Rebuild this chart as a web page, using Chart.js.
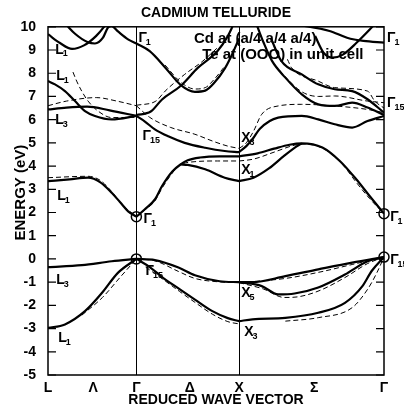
<!DOCTYPE html>
<html>
<head>
<meta charset="utf-8">
<script src="https://cdn.jsdelivr.net/npm/chart.js@4.4.0/dist/chart.umd.min.js"></script>
<style>
  html, body { margin: 0; padding: 0; background: #fff; }
  #wrap { width: 404px; height: 411px; }
</style>
</head>
<body>
<div id="wrap"><canvas id="bandChart"></canvas></div>
<script>
// symmetry points along the path (reduced wave vector) and their tick labels
const kTicks = [0, 0.44, 0.86, 1.38, 1.86, 2.59, 3.27];
const kLabels = ['L', 'Λ', 'Γ', 'Δ', 'X', 'Σ', 'Γ'];
const energyTicks = [10, 9, 8, 7, 6, 5, 4, 3, 2, 1, 0, -1, -2, -3, -4, -5];

// bands as [k, energy eV] -- solid lines
const upperL1 = [[0, 9.68], [0.117, 9.3], [0.234, 9.05], [0.35, 9.2], [0.467, 9.6], [0.545, 10.0], [0.584, 10.25]];
const upperL2 = [[0.175, 10.1], [0.263, 9.7], [0.389, 9.33], [0.457, 9.28], [0.535, 9.53], [0.584, 9.97], [0.62, 10.03], [0.681, 9.8], [0.779, 9.46], [0.86, 9.28]];
const lambdaA = [[0, 7.66], [0.068, 7.52], [0.165, 7.23], [0.263, 6.8], [0.36, 6.37], [0.457, 6.16], [0.62, 6.01], [0.86, 6.16]];
const lambdaB = [[0, 6.44], [0.18, 6.52], [0.38, 6.56], [0.6, 6.4], [0.86, 6.16]];
const lambdaCond = [[0, 3.35], [0.21, 3.43], [0.39, 3.5], [0.51, 3.3], [0.62, 2.85], [0.7, 2.45], [0.78, 2.05], [0.86, 1.82]];
const lambdaVal1 = [[0, -0.35], [0.33, -0.27], [0.62, -0.1], [0.86, 0]];
const lambdaVal2 = [[0, -2.97], [0.165, -2.82], [0.36, -2.25], [0.526, -1.46], [0.68, -0.6], [0.86, 0]];
const deltaTop = [[0.86, 9.28], [0.99, 8.95], [1.14, 8.25], [1.29, 7.5], [1.43, 7.2], [1.53, 7.25], [1.62, 7.6], [1.72, 8.2], [1.79, 8.8], [1.86, 9.5]];
const deltaRise = [[0.86, 6.2], [1.0, 6.35], [1.11, 6.87], [1.29, 7.45], [1.46, 8.24], [1.65, 8.96], [1.75, 9.6], [1.8, 10.05]];
const deltaG15 = [[0.86, 6.16], [0.94, 5.93], [1.04, 5.58], [1.17, 5.28], [1.33, 5.0], [1.53, 4.79], [1.72, 4.65], [1.86, 4.6]];
const deltaCondA = [[0.86, 1.82], [0.94, 2.13], [1.04, 2.56], [1.11, 3.14], [1.21, 3.77], [1.29, 4.07], [1.36, 4.25], [1.48, 4.37], [1.67, 4.42], [1.86, 4.42]];
const deltaCondB = [[1.29, 4.07], [1.36, 4.05], [1.53, 3.86], [1.72, 3.5], [1.86, 3.35]];
const deltaVal1 = [[0.86, 0], [1.04, -0.05], [1.27, -0.37], [1.43, -0.7], [1.67, -0.96], [1.86, -1.0]];
const deltaVal2 = [[0.86, 0], [0.99, -0.35], [1.11, -0.78], [1.28, -1.3], [1.43, -1.75], [1.6, -2.25], [1.75, -2.55], [1.86, -2.68]];
const sigmaTop1 = [[2.42, 10.1], [2.74, 9.82], [2.91, 9.53], [3.07, 9.39], [3.27, 9.32]];
const sigmaTop2 = [[2.6, 9.6], [2.68, 8.9], [2.77, 8.67], [2.87, 8.8], [3.0, 9.3], [3.2, 10.2]];
const sigmaA = [[2.03, 10.1], [2.1, 9.3], [2.18, 8.53], [2.31, 7.81], [2.47, 7.09], [2.63, 6.66], [2.79, 6.59], [2.96, 6.73], [3.11, 6.52], [3.27, 6.2]];
const sigmaB = [[2.17, 9.5], [2.27, 8.53], [2.47, 7.95], [2.63, 7.52], [2.79, 7.31], [2.96, 7.23], [3.11, 6.88], [3.27, 6.3]];
const sigmaX3 = [[1.86, 4.6], [1.93, 4.86], [2.0, 5.22], [2.06, 5.6], [2.24, 6.09], [2.47, 6.16], [2.63, 6.01], [2.79, 5.8], [2.96, 5.66], [3.11, 5.94], [3.27, 6.16]];
const sigmaCondA = [[1.86, 4.42], [2.04, 4.55], [2.2, 4.75], [2.35, 4.92], [2.47, 4.98], [2.67, 4.8], [2.84, 4.22], [3.0, 3.43], [3.13, 2.71], [3.27, 1.95]];
const sigmaCondB = [[1.86, 3.35], [2.0, 3.5], [2.15, 3.9], [2.3, 4.45], [2.42, 4.85], [2.47, 4.98]];
const sigmaVal1 = [[1.86, -1.0], [1.99, -1.0], [2.31, -0.74], [2.63, -0.45], [2.96, -0.16], [3.27, 0.08]];
const sigmaVal2 = [[1.86, -1.0], [2.08, -1.17], [2.24, -1.53], [2.4, -1.49], [2.63, -1.23], [2.89, -0.67], [3.11, -0.1], [3.27, 0.08]];
const sigmaVal3 = [[1.86, -2.68], [1.99, -2.6], [2.31, -2.54], [2.63, -2.32], [2.89, -1.89], [3.06, -1.17], [3.15, -0.52], [3.27, 0.08]];

// dashed lines (second calculation)
const lambdaDashA = [[0, 6.6], [0.18, 6.8], [0.47, 6.95], [0.67, 6.8], [0.86, 6.6]];
const lambdaDashB = [[0.243, 8.05], [0.279, 7.66], [0.328, 7.23], [0.39, 6.8], [0.487, 6.37], [0.62, 6.09], [0.86, 6.1]];
const lambdaDashCond = [[0, 3.5], [0.39, 3.56], [0.51, 3.38], [0.62, 2.9], [0.72, 2.35], [0.86, 1.82]];
const lambdaDashVal = [[0.33, -2.42], [0.53, -1.66], [0.7, -0.8], [0.86, 0]];
const deltaDashTop = [[1.14, 8.35], [1.29, 7.62], [1.43, 7.32], [1.53, 7.38], [1.62, 7.75], [1.72, 8.3]];
const deltaDashRise = [[0.86, 6.62], [1.05, 6.8], [1.14, 7.23], [1.33, 7.95], [1.5, 8.5], [1.65, 9.1]];
const deltaDashG15 = [[0.86, 6.6], [0.99, 6.1], [1.19, 5.67], [1.43, 5.37], [1.6, 5.08], [1.75, 4.86], [1.86, 4.76]];
const deltaDashCond = [[0.86, 1.82], [0.94, 2.1], [1.04, 2.5], [1.11, 3.05], [1.21, 3.7], [1.27, 4.0], [1.43, 4.19], [1.65, 4.22], [1.86, 4.22]];
const deltaDashVal1 = [[0.86, 0], [1.04, -0.08], [1.27, -0.54], [1.43, -0.84], [1.67, -0.99], [1.86, -1.02]];
const deltaDashVal2 = [[0.95, -0.35], [1.11, -0.85], [1.28, -1.4], [1.43, -1.87], [1.6, -2.38], [1.75, -2.7], [1.86, -2.8]];
const sigmaDashC = [[2.33, 8.6], [2.37, 8.24], [2.63, 7.66], [2.79, 7.38], [3.11, 7.23], [3.18, 6.8], [3.27, 6.5]];
const sigmaDashD = [[2.2, 8.4], [2.33, 7.75], [2.47, 7.2], [2.63, 7.0], [2.79, 7.02], [3.11, 6.8], [3.27, 6.73]];
const sigmaDashX3 = [[1.86, 4.76], [1.93, 5.0], [2.0, 5.5], [2.08, 6.23], [2.24, 6.59], [2.47, 6.66], [2.79, 6.59], [3.11, 6.44], [3.27, 6.3]];
const sigmaDashCond = [[1.86, 4.22], [2.0, 4.3], [2.2, 4.6], [2.4, 4.9], [2.5, 4.95], [2.7, 4.7], [2.87, 4.05], [3.0, 3.3], [3.13, 2.6], [3.27, 1.95]];
const sigmaDashVal1 = [[1.86, -1.02], [2.31, -0.84], [2.63, -0.58], [2.96, -0.24], [3.27, 0.08]];
const sigmaDashVal2 = [[1.86, -1.02], [2.1, -1.3], [2.3, -1.66], [2.45, -1.62], [2.65, -1.35], [2.89, -0.8], [3.11, -0.2], [3.27, 0.08]];
const sigmaDashVal3 = [[2.31, -2.68], [2.63, -2.53], [2.96, -2.1], [3.11, -1.31], [3.2, -0.6], [3.27, 0.08]];

// circled degenerate points at Gamma
const circledPoints = [[0.86, 1.82], [0.86, 0], [3.27, 1.95], [3.27, 0.08]];

const solidBands = [upperL1, upperL2, lambdaA, lambdaB, lambdaCond, lambdaVal1, lambdaVal2,
    deltaTop, deltaRise, deltaG15, deltaCondA, deltaCondB, deltaVal1, deltaVal2,
    sigmaTop1, sigmaTop2, sigmaA, sigmaB, sigmaX3, sigmaCondA, sigmaCondB, sigmaVal1, sigmaVal2, sigmaVal3];
const dashedBands = [lambdaDashA, lambdaDashB, lambdaDashCond, lambdaDashVal,
    deltaDashTop, deltaDashRise, deltaDashG15, deltaDashCond, deltaDashVal1, deltaDashVal2,
    sigmaDashC, sigmaDashD, sigmaDashX3, sigmaDashCond, sigmaDashVal1, sigmaDashVal2, sigmaDashVal3];

// symmetry labels: letter, subscript, k, energy
const symbolLabels = [
    ['L', '1', 0.07, 9.0], ['L', '1', 0.08, 7.87], ['L', '3', 0.07, 5.97], ['L', '1', 0.09, 2.7],
    ['L', '3', 0.08, -0.93], ['L', '1', 0.1, -3.43],
    ['Γ', '1', 0.88, 9.5], ['Γ', '15', 0.92, 5.28], ['Γ', '1', 0.93, 1.7], ['Γ', '15', 0.95, -0.54],
    ['X', '3', 1.88, 5.19], ['X', '1', 1.88, 3.81], ['X', '5', 1.88, -1.49], ['X', '3', 1.91, -3.17],
    ['Γ', '1', 3.3, 9.5], ['Γ', '15', 3.3, 6.7], ['Γ', '1', 3.33, 1.79], ['Γ', '15', 3.33, -0.06]
];

const toXY = arr => arr.map(([x, y]) => ({ x, y }));

const datasets = [];
solidBands.forEach(b => datasets.push({
    data: toXY(b), borderColor: '#000', borderWidth: 2.2, pointRadius: 0,
    cubicInterpolationMode: 'monotone', clip: 0
}));
dashedBands.forEach(b => datasets.push({
    data: toXY(b), borderColor: '#000', borderWidth: 1, borderDash: [5, 3], pointRadius: 0,
    cubicInterpolationMode: 'monotone', clip: 0
}));
datasets.push({
    type: 'scatter', data: toXY(circledPoints), showLine: false,
    pointRadius: 5, pointBorderWidth: 1.5, pointBorderColor: '#000',
    pointBackgroundColor: 'rgba(0,0,0,0)', clip: false
});

function drawSymbol(ctx, px, py, main, sub) {
    ctx.font = 'bold 14px "Liberation Sans"';
    ctx.fillText(main, px, py);
    const w = ctx.measureText(main).width;
    ctx.font = 'bold 9px "Liberation Sans"';
    ctx.fillText(sub, px + w - 1, py + 4);
}

const decorations = {
    id: 'decorations',
    afterDatasetsDraw(chart) {
        const { ctx, chartArea: a, scales: { x, y } } = chart;
        ctx.save();
        ctx.strokeStyle = '#000';
        ctx.fillStyle = '#000';
        ctx.lineWidth = 1.5;
        ctx.strokeRect(a.left, a.top, a.right - a.left, a.bottom - a.top);

        // inward tick marks on both energy axes
        ctx.lineWidth = 1.2;
        energyTicks.forEach(v => {
            const py = y.getPixelForValue(v);
            ctx.beginPath();
            ctx.moveTo(a.left, py); ctx.lineTo(a.left + 8, py);
            ctx.moveTo(a.right, py); ctx.lineTo(a.right - 8, py);
            ctx.stroke();
        });

        ctx.textBaseline = 'middle';
        ctx.textAlign = 'left';
        symbolLabels.forEach(([m, s, k, e]) => drawSymbol(ctx, x.getPixelForValue(k), y.getPixelForValue(e), m, s));

        ctx.font = 'bold 15px "Liberation Sans"';
        ctx.fillText('Cd at (a/4 a/4 a/4)', x.getPixelForValue(1.42), y.getPixelForValue(9.46));
        ctx.fillText('Te at (OOO) in unit cell', x.getPixelForValue(1.5), y.getPixelForValue(8.77));
        ctx.restore();
    }
};

new Chart(document.getElementById('bandChart'), {
    type: 'line',
    data: { datasets },
    options: {
        responsive: true,
        maintainAspectRatio: false,
        animation: false,
        layout: { padding: { right: 20 } },
        plugins: {
            legend: { display: false },
            tooltip: { enabled: false },
            title: {
                display: true, text: 'CADMIUM TELLURIDE', color: '#000', fullSize: false,
                font: { family: 'Liberation Sans', size: 14, weight: 'bold' },
                padding: { top: 5, bottom: 5 }
            }
        },
        scales: {
            x: {
                type: 'linear', min: 0, max: 3.27,
                afterBuildTicks: s => { s.ticks = kTicks.map(v => ({ value: v })); },
                afterFit: s => { s.height = 36; },
                ticks: {
                    autoSkip: false, maxRotation: 0, padding: 5, color: '#000',
                    font: { family: 'Liberation Sans', size: 14, weight: 'bold' },
                    callback: (v, i) => kLabels[i]
                },
                grid: {
                    drawTicks: false, lineWidth: 1,
                    color: c => (c.tick && (c.tick.value === 0.86 || c.tick.value === 1.86)) ? '#000' : 'rgba(0,0,0,0)'
                },
                border: { display: false },
                title: {
                    display: true, text: 'REDUCED WAVE VECTOR', color: '#000',
                    font: { family: 'Liberation Sans', size: 14, weight: 'bold' },
                    padding: { top: 0, bottom: 2 }
                }
            },
            y: {
                min: -5, max: 10,
                afterBuildTicks: s => { s.ticks = energyTicks.map(v => ({ value: v })); },
                afterFit: s => { s.width = 48; },
                ticks: {
                    padding: 4, color: '#000',
                    font: { family: 'Liberation Sans', size: 14, weight: 'bold' }
                },
                grid: { display: false },
                border: { display: false },
                title: {
                    display: true, text: '    ENERGY (eV)', color: '#000',
                    font: { family: 'Liberation Sans', size: 15, weight: 'bold' },
                    padding: { top: 12, bottom: 0 }
                }
            }
        }
    },
    plugins: [decorations]
});
</script>
</body>
</html>
